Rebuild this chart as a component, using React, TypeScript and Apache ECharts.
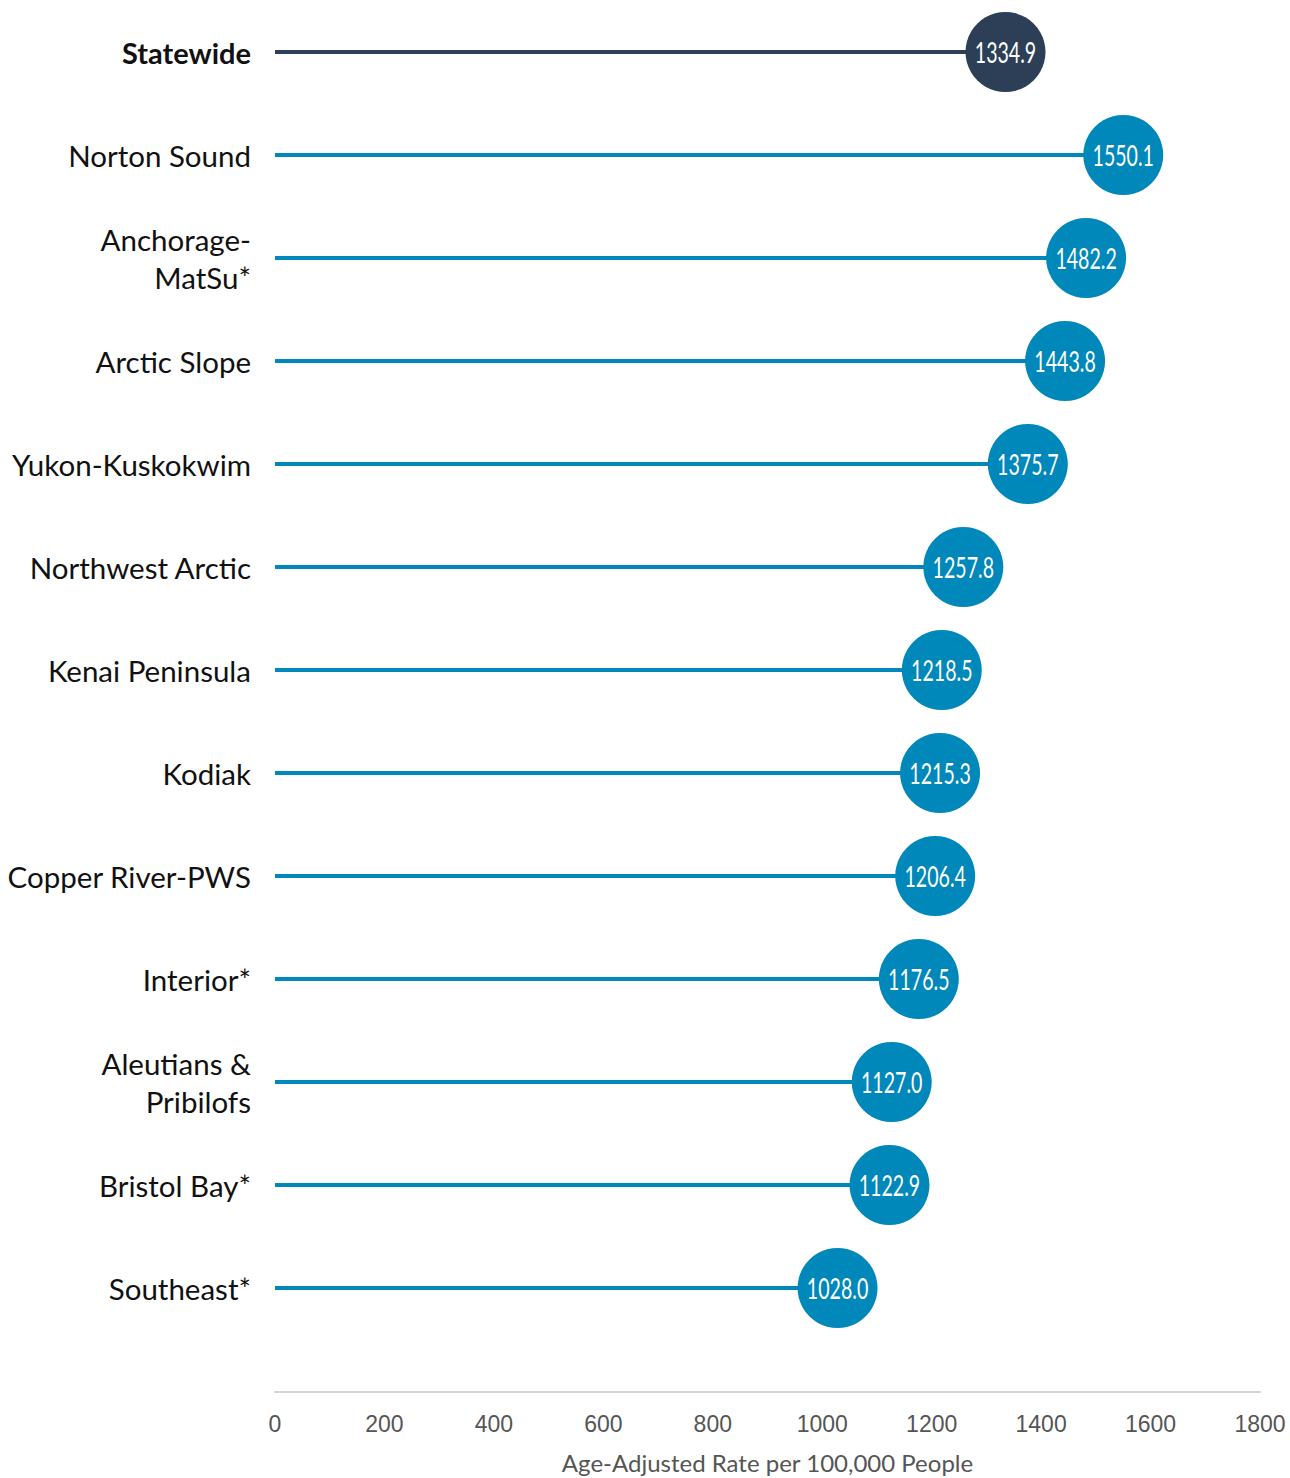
import React, { useEffect, useRef } from "react";
import * as echarts from "echarts";

const regions = [
  "Statewide",
  "Norton Sound",
  "Anchorage-\nMatSu*",
  "Arctic Slope",
  "Yukon-Kuskokwim",
  "Northwest Arctic",
  "Kenai Peninsula",
  "Kodiak",
  "Copper River-PWS",
  "Interior*",
  "Aleutians &\nPribilofs",
  "Bristol Bay*",
  "Southeast*",
];
const rates = [1334.9, 1550.1, 1482.2, 1443.8, 1375.7, 1257.8, 1218.5, 1215.3, 1206.4, 1176.5, 1127.0, 1122.9, 1028.0];
const xTicks = [0, 200, 400, 600, 800, 1000, 1200, 1400, 1600, 1800];
const axisTitle = "Age-Adjusted Rate per 100,000 People";

const STATE_COLOR = "#2c3f57";
const REGION_COLOR = "#0088bb";
const LABEL_FONT = "Lato, 'Open Sans', sans-serif";

export default function App() {
  const ref = useRef<HTMLDivElement>(null);
  useEffect(() => {
    if (!ref.current) return;
    const chart = echarts.init(ref.current, null, { renderer: "svg" });
    const colorOf = (i: number) => (i === 0 ? STATE_COLOR : REGION_COLOR);
    chart.setOption({
      animation: false,
      grid: {
        left: 275,
        right: 30,
        top: 0.5,
        height: 1339,
        containLabel: false,
        outerBoundsMode: "none",
      },
      xAxis: {
        type: "value",
        min: xTicks[0],
        max: xTicks[xTicks.length - 1],
        interval: 200,
        offset: 52,
        axisLine: { show: true, lineStyle: { color: "#d4d4d4", width: 2 } },
        axisTick: { show: false },
        splitLine: { show: false },
        axisLabel: {
          color: "#555555",
          fontFamily: "'Liberation Sans', Arial, sans-serif",
          fontSize: 23,
          margin: 21,
          formatter: (v: number) => String(v),
        },
        name: axisTitle,
        nameLocation: "middle",
        nameGap: 59,
        nameTextStyle: { color: "#555555", fontFamily: LABEL_FONT, fontSize: 24 },
      },
      yAxis: {
        type: "category",
        inverse: true,
        data: regions,
        axisLine: { show: false },
        axisTick: { show: false },
        axisLabel: {
          margin: 24,
          align: "right",
          formatter: (v: string) =>
            v
              .split("\n")
              .map((line) => (v === "Statewide" ? `{b|${line}}` : `{n|${line}}`))
              .join("\n"),
          rich: {
            b: { fontFamily: LABEL_FONT, fontSize: 29, fontWeight: "bold", color: "#111", lineHeight: 38 },
            n: { fontFamily: LABEL_FONT, fontSize: 29.5, color: "#111", lineHeight: 38 },
          },
        },
      },
      series: [
        {
          type: "bar",
          barWidth: 4,
          data: rates.map((v, i) => ({ value: v, itemStyle: { color: colorOf(i) } })),
          silent: true,
        },
        {
          type: "custom",
          data: rates.map((v, i) => [v, i]),
          z: 3,
          renderItem: (params: any, api: any) => {
            const x = api.value(0);
            const idx = api.value(1);
            const pt = api.coord([x, idx]);
            return {
              type: "group",
              children: [
                {
                  type: "circle",
                  shape: { cx: pt[0], cy: pt[1], r: 40 },
                  style: { fill: colorOf(idx) },
                },
                {
                  type: "text",
                  x: pt[0],
                  y: pt[1],
                  scaleX: 0.7,
                  style: {
                    text: Number(x).toFixed(1),
                    fill: "#ffffff",
                    fontFamily: LABEL_FONT,
                    fontSize: 28,
                    align: "center",
                    verticalAlign: "middle",
                  },
                },
              ],
            };
          },
        },
      ],
    });
    return () => chart.dispose();
  }, []);
  return (
    <div
      ref={ref}
      style={{ position: "absolute", left: 0, top: 0, width: 1290, height: 1478 }}
    />
  );
}
